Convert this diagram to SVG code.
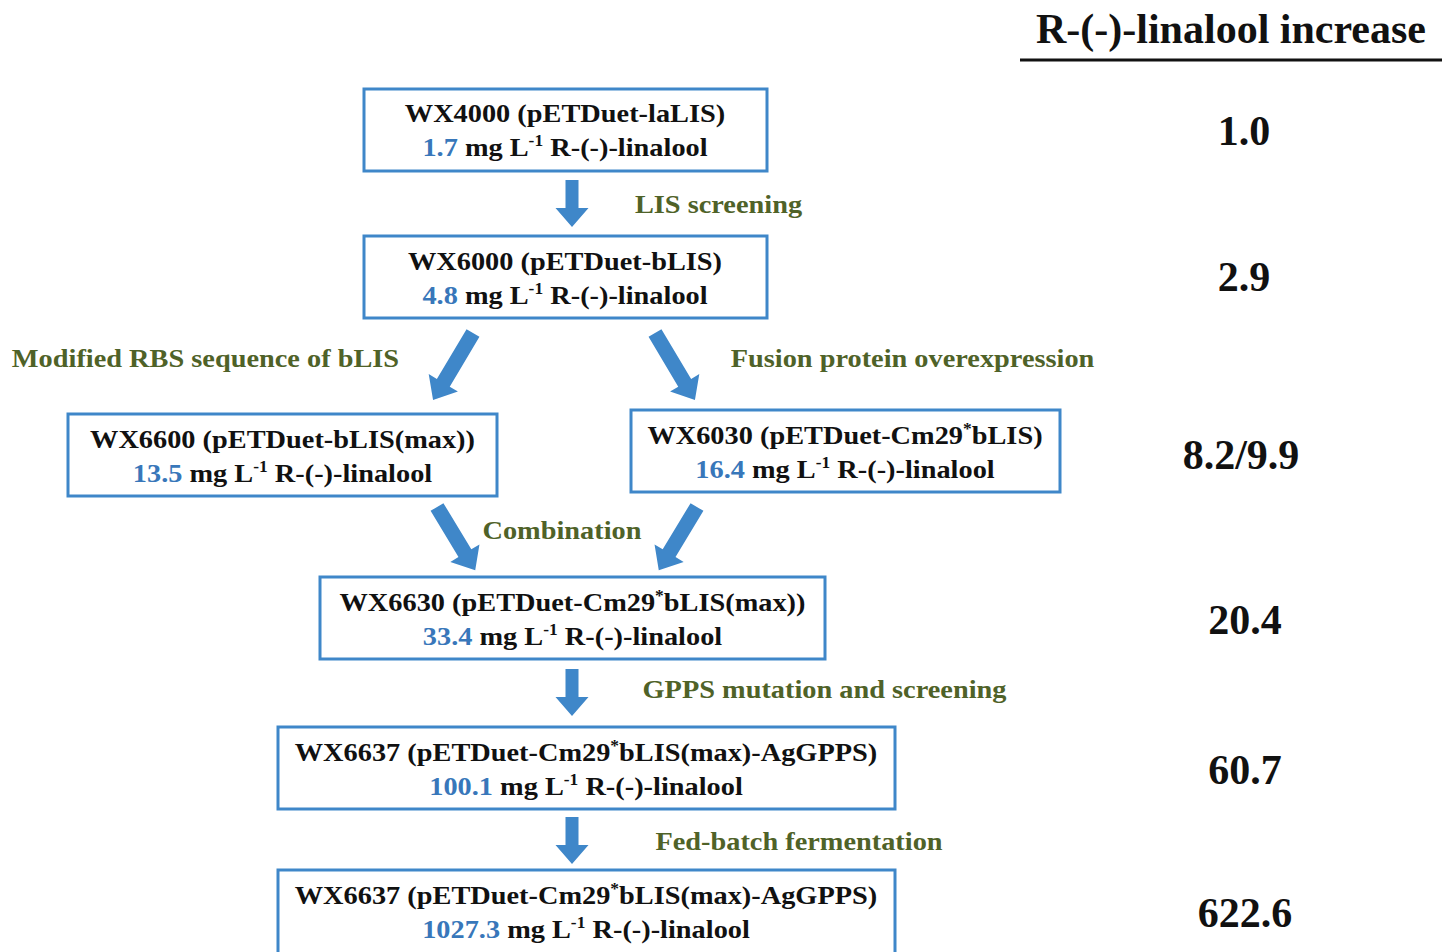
<svg xmlns="http://www.w3.org/2000/svg" width="1442" height="952" viewBox="0 0 1442 952">
<style>
.box{fill:#fff;stroke:#3F87C9;stroke-width:3}
.t{font-family:"Liberation Serif","Times New Roman",serif;font-weight:bold;font-size:26px;fill:#111;text-anchor:middle}
.v{fill:#3877BA}
.sup{font-size:16px}
.g{font-family:"Liberation Serif","Times New Roman",serif;font-weight:bold;font-size:26px;fill:#4F6228;text-anchor:middle}
.n{font-family:"Liberation Serif","Times New Roman",serif;font-weight:bold;font-size:42px;fill:#111;text-anchor:middle}
.arr{fill:#3F87C9}
</style>
<rect width="1442" height="952" fill="#fff"/>
<g id="connectors">
<path class="arr" transform="translate(572,180)" d="M-6.5,0 H6.5 V28 H16.5 L0,47 L-16.5,28 H-6.5 Z"/>
<path class="arr" transform="translate(572,669)" d="M-6.5,0 H6.5 V28 H16.5 L0,47 L-16.5,28 H-6.5 Z"/>
<path class="arr" transform="translate(572,817)" d="M-6.5,0 H6.5 V28 H16.5 L0,47 L-16.5,28 H-6.5 Z"/>
<path class="arr" transform="translate(473,333) rotate(30.8)" d="M-7.5,0 H7.5 V58 H17 L0,78 L-17,58 H-7.5 Z"/>
<path class="arr" transform="translate(655,333) rotate(-30.8)" d="M-7.5,0 H7.5 V58 H17 L0,78 L-17,58 H-7.5 Z"/>
<path class="arr" transform="translate(437,507) rotate(-31.1)" d="M-7.5,0 H7.5 V54 H17 L0,74 L-17,54 H-7.5 Z"/>
<path class="arr" transform="translate(697,507) rotate(31.1)" d="M-7.5,0 H7.5 V54 H17 L0,74 L-17,54 H-7.5 Z"/>
</g>
<g id="labels">
<text class="g" transform="translate(718.5,213) scale(1.09,1)">LIS screening</text>
<text class="g" transform="translate(205.5,367) scale(1.09,1)">Modified RBS sequence of bLIS</text>
<text class="g" transform="translate(912.5,367) scale(1.09,1)">Fusion protein overexpression</text>
<text class="g" transform="translate(562,539) scale(1.09,1)">Combination</text>
<text class="g" transform="translate(824.5,698) scale(1.09,1)">GPPS mutation and screening</text>
<text class="g" transform="translate(799,850) scale(1.09,1)">Fed-batch fermentation</text>
</g>
<g id="n1">
<rect class="box" x="364" y="89" width="403" height="82"/>
<text class="t" transform="translate(565,122) scale(1.09,1)">WX4000 (pETDuet-laLIS)</text>
<text class="t" transform="translate(565,156) scale(1.09,1)"><tspan class="v">1.7</tspan> mg L<tspan class="sup" dy="-10">-1</tspan><tspan dy="10"> R-(-)-linalool</tspan></text>
</g>
<g id="n2">
<rect class="box" x="364" y="236" width="403" height="82"/>
<text class="t" transform="translate(565,270) scale(1.09,1)">WX6000 (pETDuet-bLIS)</text>
<text class="t" transform="translate(565,304) scale(1.09,1)"><tspan class="v">4.8</tspan> mg L<tspan class="sup" dy="-10">-1</tspan><tspan dy="10"> R-(-)-linalool</tspan></text>
</g>
<g id="n3">
<rect class="box" x="68" y="414" width="429" height="82"/>
<text class="t" transform="translate(282.5,448) scale(1.09,1)">WX6600 (pETDuet-bLIS(max))</text>
<text class="t" transform="translate(282.5,482) scale(1.09,1)"><tspan class="v">13.5</tspan> mg L<tspan class="sup" dy="-10">-1</tspan><tspan dy="10"> R-(-)-linalool</tspan></text>
</g>
<g id="n4">
<rect class="box" x="631" y="410" width="429" height="82"/>
<text class="t" transform="translate(845,444) scale(1.09,1)">WX6030 (pETDuet-Cm29<tspan class="sup" dy="-10">*</tspan><tspan dy="10">bLIS)</tspan></text>
<text class="t" transform="translate(845,478) scale(1.09,1)"><tspan class="v">16.4</tspan> mg L<tspan class="sup" dy="-10">-1</tspan><tspan dy="10"> R-(-)-linalool</tspan></text>
</g>
<g id="n5">
<rect class="box" x="320" y="577" width="505" height="82"/>
<text class="t" transform="translate(572.5,611) scale(1.09,1)">WX6630 (pETDuet-Cm29<tspan class="sup" dy="-10">*</tspan><tspan dy="10">bLIS(max))</tspan></text>
<text class="t" transform="translate(572.5,645) scale(1.09,1)"><tspan class="v">33.4</tspan> mg L<tspan class="sup" dy="-10">-1</tspan><tspan dy="10"> R-(-)-linalool</tspan></text>
</g>
<g id="n6">
<rect class="box" x="278" y="727" width="617" height="82"/>
<text class="t" transform="translate(586,761) scale(1.09,1)">WX6637 (pETDuet-Cm29<tspan class="sup" dy="-10">*</tspan><tspan dy="10">bLIS(max)-AgGPPS)</tspan></text>
<text class="t" transform="translate(586,795) scale(1.09,1)"><tspan class="v">100.1</tspan> mg L<tspan class="sup" dy="-10">-1</tspan><tspan dy="10"> R-(-)-linalool</tspan></text>
</g>
<g id="n7">
<rect class="box" x="278" y="870" width="617" height="100"/>
<text class="t" transform="translate(586,904) scale(1.09,1)">WX6637 (pETDuet-Cm29<tspan class="sup" dy="-10">*</tspan><tspan dy="10">bLIS(max)-AgGPPS)</tspan></text>
<text class="t" transform="translate(586,938) scale(1.09,1)"><tspan class="v">1027.3</tspan> mg L<tspan class="sup" dy="-10">-1</tspan><tspan dy="10"> R-(-)-linalool</tspan></text>
</g>
<g id="increase">
<text class="n" x="1231" y="43">R-(-)-linalool increase</text>
<rect x="1020" y="58.5" width="422" height="3" fill="#111"/>
<text class="n" x="1244" y="145">1.0</text>
<text class="n" x="1244" y="291">2.9</text>
<text class="n" x="1241" y="469">8.2/9.9</text>
<text class="n" x="1245" y="634">20.4</text>
<text class="n" x="1245" y="784">60.7</text>
<text class="n" x="1245" y="927">622.6</text>
</g>
</svg>
